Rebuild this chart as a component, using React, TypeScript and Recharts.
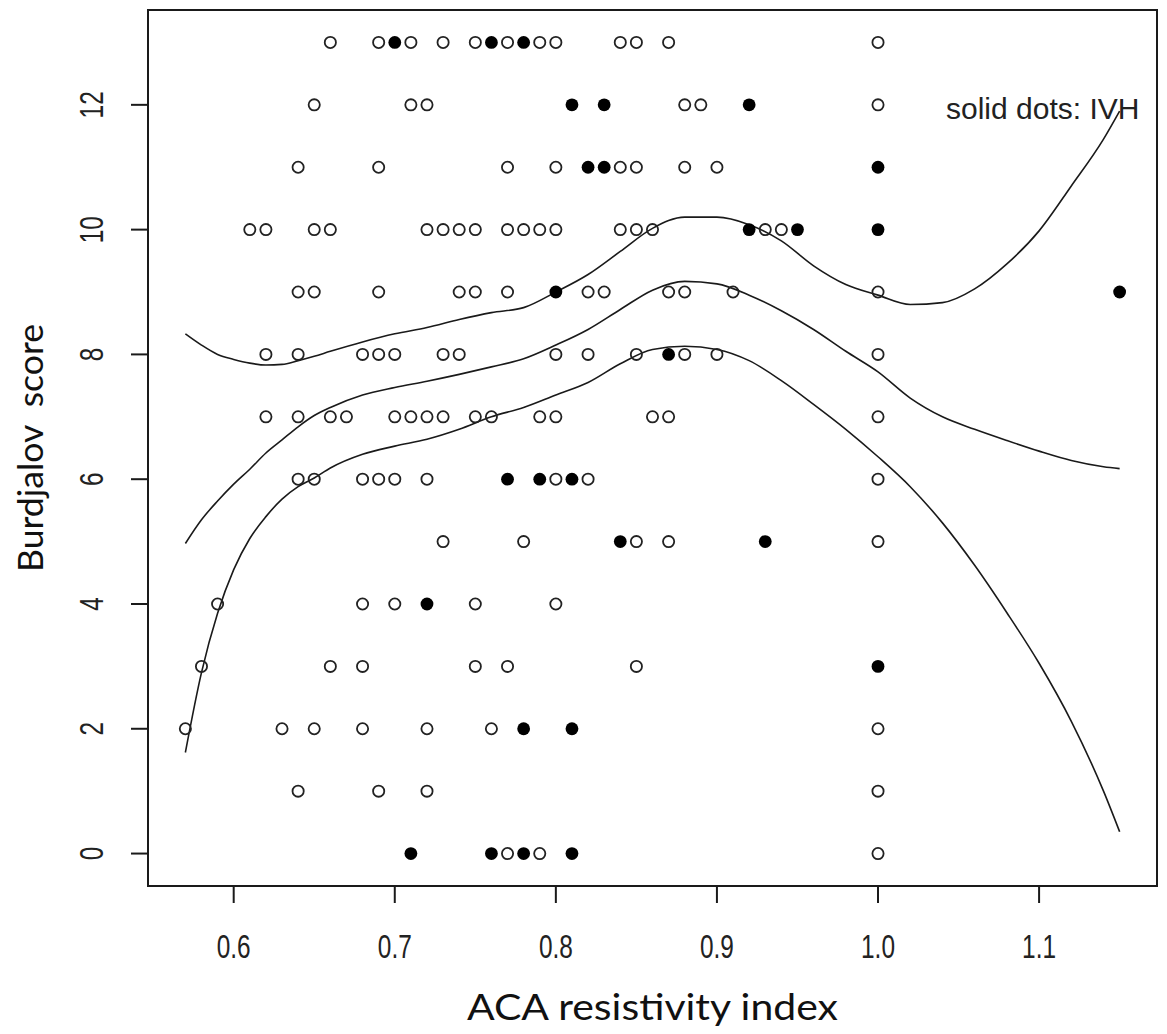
import React from 'react'
import {
  ComposedChart,
  Scatter,
  Line,
  XAxis,
  YAxis,
  ReferenceArea,
} from 'recharts'

// Burdjalov score rows, top to bottom
const scores = [13, 12, 11, 10, 9, 8, 7, 6, 5, 4, 3, 2, 1, 0]

// ACA RI of infants without IVH (open circles), one list per score row
const openRI: number[][] = [
  [0.66, 0.69, 0.71, 0.73, 0.75, 0.77, 0.79, 0.8, 0.84, 0.85, 0.87, 1.0],
  [0.65, 0.71, 0.72, 0.88, 0.89, 1.0],
  [0.64, 0.69, 0.77, 0.8, 0.84, 0.85, 0.88, 0.9],
  [0.61, 0.62, 0.65, 0.66, 0.72, 0.73, 0.74, 0.75, 0.77, 0.78, 0.79, 0.8, 0.84, 0.85, 0.86, 0.93, 0.94],
  [0.64, 0.65, 0.69, 0.74, 0.75, 0.77, 0.82, 0.83, 0.87, 0.88, 0.91, 1.0],
  [0.62, 0.64, 0.68, 0.69, 0.7, 0.73, 0.74, 0.8, 0.82, 0.85, 0.88, 0.9, 1.0],
  [0.62, 0.64, 0.66, 0.67, 0.7, 0.71, 0.72, 0.73, 0.75, 0.76, 0.79, 0.8, 0.86, 0.87, 1.0],
  [0.64, 0.65, 0.68, 0.69, 0.7, 0.72, 0.8, 0.82, 1.0],
  [0.73, 0.78, 0.85, 0.87, 1.0],
  [0.59, 0.68, 0.7, 0.75, 0.8],
  [0.58, 0.66, 0.68, 0.75, 0.77, 0.85],
  [0.57, 0.63, 0.65, 0.68, 0.72, 0.76, 1.0],
  [0.64, 0.69, 0.72, 1.0],
  [0.77, 0.79, 1.0],
]

// ACA RI of infants with IVH (solid dots)
const solidRI: number[][] = [
  [0.7, 0.76, 0.78],
  [0.81, 0.83, 0.92],
  [0.82, 0.83, 1.0],
  [0.92, 0.95, 1.0],
  [0.8, 1.15],
  [0.87],
  [],
  [0.77, 0.79, 0.81],
  [0.84, 0.93],
  [0.72],
  [1.0],
  [0.78, 0.81],
  [],
  [0.71, 0.76, 0.78, 0.81],
]

// smoothed fit with its upper and lower band
const curveRI = [
  0.57, 0.58, 0.59, 0.6, 0.61, 0.62, 0.63, 0.64, 0.65, 0.66, 0.68, 0.7, 0.72, 0.74, 0.76, 0.78, 0.8, 0.82,
  0.84, 0.86, 0.88, 0.9, 0.92, 0.94, 0.96, 0.98, 1.0, 1.02, 1.04, 1.06, 1.08, 1.1, 1.12, 1.14, 1.15,
]
const upperBand = [
  8.33, 8.15, 8.0, 7.92, 7.86, 7.83, 7.84, 7.9, 7.97, 8.05, 8.2, 8.33, 8.43, 8.56, 8.67, 8.75, 9.0, 9.28,
  9.65, 10.02, 10.2, 10.2, 10.08, 9.82, 9.42, 9.12, 8.95, 8.8, 8.83, 9.05, 9.45, 9.98, 10.7, 11.45, 11.9,
]
const fitScore = [
  4.97, 5.35, 5.65, 5.92, 6.16, 6.42, 6.63, 6.84, 7.02, 7.15, 7.35, 7.47, 7.57, 7.68, 7.8, 7.93, 8.15, 8.4,
  8.72, 9.03, 9.17, 9.13, 8.95, 8.7, 8.4, 8.05, 7.72, 7.3, 7.0, 6.8, 6.62, 6.45, 6.3, 6.2, 6.17,
]
const lowerBand = [
  1.62, 2.9, 3.85, 4.55, 5.05, 5.4, 5.68, 5.88, 6.02, 6.18, 6.4, 6.53, 6.64, 6.8, 7.0, 7.15, 7.35, 7.55,
  7.85, 8.08, 8.13, 8.08, 7.9, 7.58, 7.2, 6.8, 6.36, 5.88, 5.3, 4.62, 3.86, 3.05, 2.12, 1.0, 0.35,
]

const xTicks = [0.6, 0.7, 0.8, 0.9, 1.0, 1.1]
const yTicks = [0, 2, 4, 6, 8, 10, 12]
const xDomain = [0.5468, 1.1732]
const yDomain = [-0.52, 13.52]

const toPoints = (rows: number[][]) =>
  rows.flatMap((xs, i) => xs.map((x) => ({ x, y: scores[i] })))

const openPoints = toPoints(openRI)
const solidPoints = toPoints(solidRI)
const band = (ys: number[]) => curveRI.map((x, i) => ({ x, y: ys[i] }))

const INK = '#1a1a1a'
const tickFont = '"Liberation Sans", Arial, sans-serif'
const titleFont = 'Lato, "Open Sans", sans-serif'

const OpenDot = (p: any) => (
  <circle cx={p.cx} cy={p.cy} r={5.6} fill="none" stroke="#222" strokeWidth={1.8} />
)
const SolidDot = (p: any) => <circle cx={p.cx} cy={p.cy} r={6.4} fill="#000" />

const XTick = ({ x, y, payload }: any) => (
  <text
    transform={`translate(${x},${y + 53}) scale(0.74,1)`}
    textAnchor="middle"
    fontFamily={tickFont}
    fontSize={33}
    fill="#222"
  >
    {payload.value.toFixed(1)}
  </text>
)

const YTick = ({ x, y, payload }: any) => (
  <text
    transform={`translate(${x - 26},${y}) rotate(-90) scale(0.74,1)`}
    textAnchor="middle"
    fontFamily={tickFont}
    fontSize={33}
    fill="#222"
  >
    {payload.value}
  </text>
)

const XTitle = ({ viewBox }: any) => (
  <text
    x={viewBox.x + viewBox.width / 2}
    y={viewBox.y + 134}
    textAnchor="middle"
    fontFamily={titleFont}
    fontSize={36}
    textLength={371}
    lengthAdjust="spacingAndGlyphs"
    fill="#111"
  >
    ACA resistivity index
  </text>
)

const YTitle = ({ viewBox }: any) => (
  <text
    transform={`translate(43,${viewBox.y + viewBox.height / 2}) rotate(-90)`}
    textAnchor="middle"
    fontFamily={titleFont}
    fontSize={35}
    textLength={248}
    lengthAdjust="spacingAndGlyphs"
    fill="#111"
  >
    {'Burdjalov\u00a0 score'}
  </text>
)

export default function App() {
  return (
    <div style={{ position: 'absolute', left: 0, top: 0, width: 1167, height: 1034, background: '#fff' }}>
      <ComposedChart width={1167} height={1034} margin={{ top: 10, right: 10, left: 0, bottom: 0 }}>
        <XAxis
          dataKey="x"
          type="number"
          domain={xDomain}
          ticks={xTicks}
          allowDataOverflow
          height={148}
          tickSize={17}
          stroke={INK}
          strokeWidth={2}
          tick={<XTick />}
          label={<XTitle />}
        />
        <YAxis
          type="number"
          domain={yDomain}
          ticks={yTicks}
          allowDataOverflow
          width={148}
          tickSize={17}
          stroke={INK}
          strokeWidth={2}
          tick={<YTick />}
          label={<YTitle />}
        />
        {/* plot frame, as R's box() */}
        <ReferenceArea
          x1={xDomain[0]}
          x2={xDomain[1]}
          y1={yDomain[0]}
          y2={yDomain[1]}
          ifOverflow="visible"
          fill="none"
          stroke={INK}
          strokeWidth={2}
        />
        <Scatter data={openPoints} dataKey="y" shape={OpenDot} isAnimationActive={false} />
        <Scatter data={solidPoints} dataKey="y" shape={SolidDot} isAnimationActive={false} />
        <Line data={band(upperBand)} dataKey="y" type="monotone" dot={false} stroke={INK} strokeWidth={1.6} isAnimationActive={false} />
        <Line data={band(fitScore)} dataKey="y" type="monotone" dot={false} stroke={INK} strokeWidth={1.6} isAnimationActive={false} />
        <Line data={band(lowerBand)} dataKey="y" type="monotone" dot={false} stroke={INK} strokeWidth={1.6} isAnimationActive={false} />
      </ComposedChart>
      <div
        style={{
          position: 'absolute',
          left: 946,
          top: 94,
          fontFamily: tickFont,
          fontSize: 30,
          lineHeight: '30px',
          color: '#222',
          whiteSpace: 'nowrap',
        }}
      >
        solid dots: IVH
      </div>
    </div>
  )
}
